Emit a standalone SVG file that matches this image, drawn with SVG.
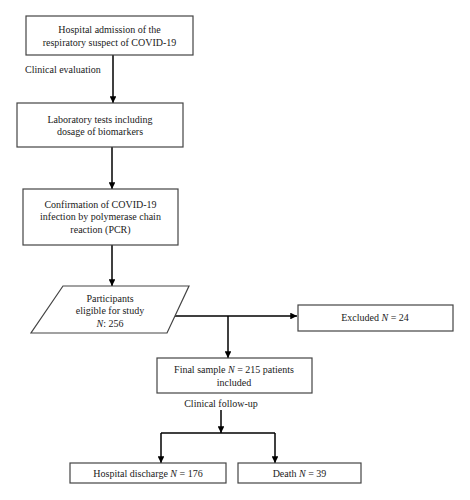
<svg xmlns="http://www.w3.org/2000/svg" width="470" height="500" viewBox="0 0 470 500">
<style>
.box{fill:#fff;stroke:#444;stroke-width:1.2}
.ln{fill:none;stroke:#000;stroke-width:1.5}
text{font-family:"Liberation Serif","Times New Roman",serif;font-size:10px;fill:#1a1a1a}
.c{text-anchor:middle}
</style>
<defs>
<marker id="ah" viewBox="0 0 10 10" refX="10" refY="5" markerWidth="4.5" markerHeight="4.5" orient="auto" markerUnits="strokeWidth">
<path d="M0,0 L10,5 L0,10 z" fill="#000"/>
</marker>
</defs>
<rect width="470" height="500" fill="#fff"/>
<g id="connectors">
<line class="ln" x1="113" y1="55" x2="113" y2="103" marker-end="url(#ah)"/>
<line class="ln" x1="112" y1="147" x2="112" y2="189" marker-end="url(#ah)"/>
<line class="ln" x1="112" y1="245" x2="112" y2="286" marker-end="url(#ah)"/>
<line class="ln" x1="175" y1="316" x2="297" y2="316" marker-end="url(#ah)"/>
<line class="ln" x1="228" y1="316" x2="228" y2="358" marker-end="url(#ah)"/>
<line class="ln" x1="221" y1="410" x2="221" y2="433" marker-end="url(#ah)"/>
<polyline class="ln" points="161,433 275,433"/>
<line class="ln" x1="161" y1="433" x2="161" y2="463" marker-end="url(#ah)"/>
<line class="ln" x1="275" y1="433" x2="275" y2="463" marker-end="url(#ah)"/>
<text x="25" y="73">Clinical evaluation</text>
<text class="c" x="221" y="406.5">Clinical follow-up</text>
</g>
<g id="admission">
<rect class="box" x="26" y="16" width="167" height="39"/>
<text class="c" x="109.5" y="32.5">Hospital admission of the</text>
<text class="c" x="109.5" y="45.5">respiratory suspect of COVID-19</text>
</g>
<g id="lab">
<rect class="box" x="17" y="103" width="166" height="44"/>
<text class="c" x="100" y="122.5">Laboratory tests including</text>
<text class="c" x="100" y="134.5">dosage of biomarkers</text>
</g>
<g id="pcr">
<rect class="box" x="23" y="189" width="155" height="56"/>
<text class="c" x="100.5" y="207.5">Confirmation of COVID-19</text>
<text class="c" x="100.5" y="220">infection by polymerase chain</text>
<text class="c" x="100.5" y="232.5">reaction (PCR)</text>
</g>
<g id="eligible">
<polygon class="box" points="63,286 189,286 167,333 31,333"/>
<text class="c" x="110" y="301.5">Participants</text>
<text class="c" x="110" y="314">eligible for study</text>
<text class="c" x="110" y="326.5"><tspan font-style="italic">N</tspan>: 256</text>
</g>
<g id="excluded">
<rect class="box" x="298" y="305" width="155" height="26"/>
<text class="c" x="375" y="320.5">Excluded <tspan font-style="italic">N</tspan> = 24</text>
</g>
<g id="final">
<rect class="box" x="157" y="358" width="155" height="35"/>
<text class="c" x="234" y="372.5">Final sample <tspan font-style="italic">N</tspan> = 215 patients</text>
<text class="c" x="234" y="385.5">included</text>
</g>
<g id="discharge">
<rect class="box" x="70" y="463" width="156" height="20"/>
<text class="c" x="148" y="476.5">Hospital discharge <tspan font-style="italic">N</tspan> = 176</text>
</g>
<g id="death">
<rect class="box" x="238" y="463" width="123" height="20"/>
<text class="c" x="299.5" y="476.5">Death <tspan font-style="italic">N</tspan> = 39</text>
</g>
</svg>
